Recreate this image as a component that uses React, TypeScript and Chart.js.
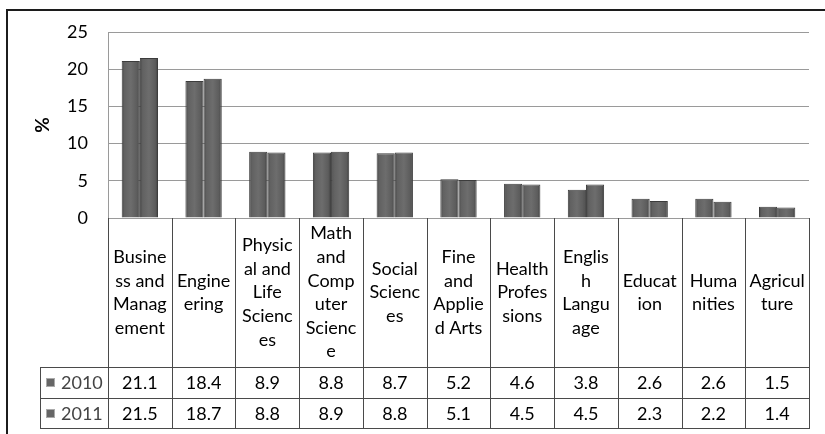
import React, { useEffect, useRef } from "react";
import { Chart, registerables } from "chart.js";

Chart.register(...registerables);

const categories = [
  "Business and Management",
  "Engineering",
  "Physical and Life Sciences",
  "Math and Computer Science",
  "Social Sciences",
  "Fine and Applied Arts",
  "Health Professions",
  "English Language",
  "Education",
  "Humanities",
  "Agriculture",
];

const categoryLines = [
  ["Busine", "ss and", "Manag", "ement"],
  ["Engine", "ering"],
  ["Physic", "al and", "Life", "Scienc", "es"],
  ["Math", "and", "Comp", "uter", "Scienc", "e"],
  ["Social", "Scienc", "es"],
  ["Fine", "and", "Applie", "d Arts"],
  ["Health", "Profes", "sions"],
  ["Englis", "h", "Langu", "age"],
  ["Educat", "ion"],
  ["Huma", "nities"],
  ["Agricul", "ture"],
];

const seriesNames = ["2010", "2011"];
const values2010 = [21.1, 18.4, 8.9, 8.8, 8.7, 5.2, 4.6, 3.8, 2.6, 2.6, 1.5];
const values2011 = [21.5, 18.7, 8.8, 8.9, 8.8, 5.1, 4.5, 4.5, 2.3, 2.2, 1.4];
const yAxisTitle = "%";

const FONT = "Lato, 'Open Sans', sans-serif";
const CAT_PCT = 0.57;

function barFill(c: any) {
  const flat = "#626262";
  if (!c || c.type !== "data") return flat;
  const chart = c.chart;
  const xs = chart && chart.scales && chart.scales.x;
  if (!xs) return flat;
  const center = xs.getPixelForValue(c.dataIndex);
  const catW = xs.getPixelForValue(1) - xs.getPixelForValue(0);
  if (!isFinite(center) || !isFinite(catW) || catW <= 0) return flat;
  const barW = (catW * CAT_PCT) / 2;
  const x0 = c.datasetIndex === 0 ? center - barW : center;
  const g = chart.ctx.createLinearGradient(x0, 0, x0 + barW, 0);
  g.addColorStop(0, "#474747");
  g.addColorStop(0.15, "#616161");
  g.addColorStop(0.5, "#6d6d6d");
  g.addColorStop(0.85, "#5c5c5c");
  g.addColorStop(1, "#404040");
  return g;
}

const framePlugin = {
  id: "frame",
  beforeDraw(chart: any) {
    const ctx = chart.ctx;
    ctx.save();
    ctx.fillStyle = "#ffffff";
    ctx.fillRect(0, 0, chart.width, chart.height);
    ctx.strokeStyle = "#1c1c1c";
    ctx.lineWidth = 2;
    ctx.beginPath();
    ctx.moveTo(7, chart.height);
    ctx.lineTo(7, 10);
    ctx.lineTo(chart.width, 10);
    ctx.stroke();
    ctx.restore();
  },
};

const tablePlugin = {
  id: "dataTable",
  afterDraw(chart: any) {
    const ctx = chart.ctx;
    const xs = chart.scales.x;
    const area = chart.chartArea;
    const n = categories.length;
    const half = (xs.getPixelForValue(1) - xs.getPixelForValue(0)) / 2;
    const bounds: number[] = [];
    for (let i = 0; i < n; i++) bounds.push(xs.getPixelForValue(i) - half);
    bounds.push(xs.getPixelForValue(n - 1) + half);
    const top = area.bottom;
    const labelBottom = top + 149;
    const rowH = 30.5;
    const rowsBottom = labelBottom + rowH * 2;
    const legendLeft = 40;

    ctx.save();
    ctx.strokeStyle = "#4a4a4a";
    ctx.lineWidth = 1;
    ctx.beginPath();
    for (const b of bounds) {
      const x = Math.round(b) + 0.5;
      ctx.moveTo(x, top);
      ctx.lineTo(x, rowsBottom);
    }
    ctx.moveTo(legendLeft + 0.5, labelBottom);
    ctx.lineTo(legendLeft + 0.5, rowsBottom);
    for (let r = 0; r <= 2; r++) {
      const y = Math.round(labelBottom + r * rowH) + 0.5;
      ctx.moveTo(legendLeft, y);
      ctx.lineTo(Math.round(bounds[n]) + 1, y);
    }
    ctx.stroke();

    ctx.fillStyle = "#000000";
    ctx.font = `18px ${FONT}`;
    ctx.textAlign = "center";
    ctx.textBaseline = "middle";
    const lh = 23.6;
    const midY = (top + labelBottom) / 2;
    categoryLines.forEach((lines, i) => {
      const cx = xs.getPixelForValue(i);
      const startY = midY - ((lines.length - 1) * lh) / 2;
      lines.forEach((ln, k) => ctx.fillText(ln, cx, startY + k * lh));
    });

    const rows = [values2010, values2011];
    rows.forEach((vals, r) => {
      const cy = labelBottom + rowH * r + rowH / 2 + 1;
      vals.forEach((v, i) => {
        ctx.fillStyle = "#000000";
        ctx.textAlign = "center";
        ctx.fillText(v.toFixed(1), xs.getPixelForValue(i), cy);
      });
      ctx.fillStyle = "#666666";
      ctx.fillRect(47, Math.round(cy - 4), 7, 7);
      ctx.strokeStyle = "#aaaaaa";
      ctx.strokeRect(46.5, Math.round(cy - 4) - 0.5, 8, 8);
      ctx.fillStyle = "#444444";
      ctx.textAlign = "left";
      ctx.fillText(seriesNames[r], 61, cy);
    });
    ctx.restore();
  },
};

export default function App() {
  const ref = useRef<HTMLCanvasElement | null>(null);

  useEffect(() => {
    document.body.style.margin = "0";
    const canvas = ref.current;
    if (!canvas) return;
    const chart = new Chart(canvas, {
      type: "bar",
      data: {
        labels: categories,
        datasets: [
          {
            label: seriesNames[0],
            data: values2010,
            backgroundColor: barFill as any,
            borderColor: "#3c3c3c",
            borderWidth: 1,
          },
          {
            label: seriesNames[1],
            data: values2011,
            backgroundColor: barFill as any,
            borderColor: "#3c3c3c",
            borderWidth: 1,
          },
        ],
      },
      options: {
        responsive: false,
        animation: false,
        devicePixelRatio: 1,
        categoryPercentage: CAT_PCT,
        barPercentage: 1,
        layout: { padding: { top: 32, right: 16, bottom: 216, left: 0 } },
        plugins: {
          legend: { display: false },
          tooltip: { enabled: false },
          title: { display: false },
        },
        scales: {
          x: { display: false, offset: true },
          y: {
            min: 0,
            max: 25,
            ticks: {
              stepSize: 5,
              padding: 20,
              color: "#000000",
              font: { family: FONT, size: 18 },
            },
            grid: { color: "#9a9a9a", lineWidth: 1, drawTicks: false },
            border: { display: true, color: "#9a9a9a" },
            title: {
              display: true,
              text: yAxisTitle,
              color: "#000000",
              font: { family: FONT, size: 19, weight: "bold" },
              padding: { top: 31, bottom: 0 },
            },
            afterFit: (scale: any) => {
              scale.width = 108;
            },
          },
        },
      },
      plugins: [framePlugin, tablePlugin],
    });
    return () => chart.destroy();
  }, []);

  return (
    <div style={{ width: 825, height: 434, position: "relative" }}>
      <canvas ref={ref} width={825} height={434} style={{ display: "block" }} />
    </div>
  );
}
